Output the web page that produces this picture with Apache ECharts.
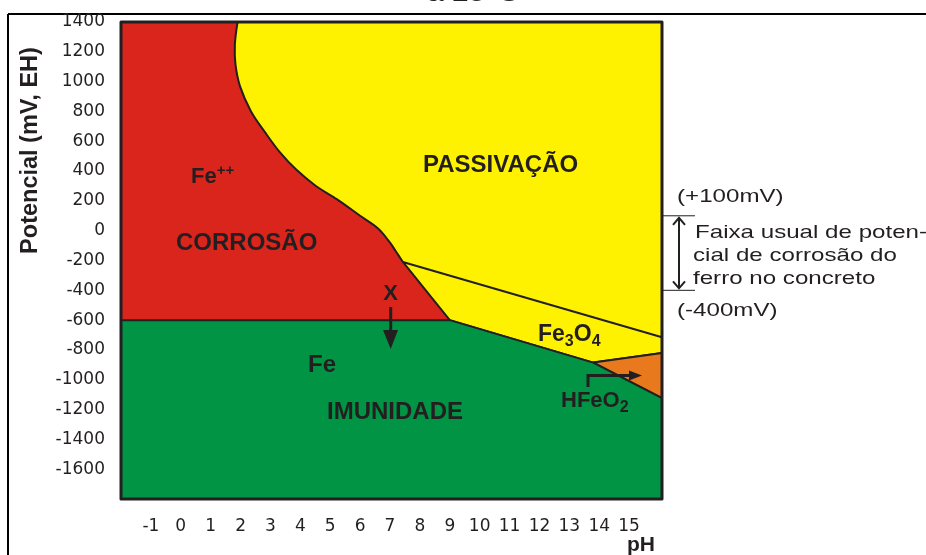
<!DOCTYPE html>
<html><head><meta charset="utf-8">
<script src="https://cdn.jsdelivr.net/npm/echarts@6/dist/echarts.min.js"></script>
<style>html,body{margin:0;padding:0;background:#fff}#c{width:926px;height:555px}</style>
</head><body><div id="c"></div>
<script>
// ---- data (pH, potential mV) ----
const xTicks = [-1,0,1,2,3,4,5,6,7,8,9,10,11,12,13,14,15];
const yTicks = [1400,1200,1000,800,600,400,200,0,-200,-400,-600,-800,-1000,-1200,-1400,-1600];
const xRange = [-2, 16.1];
const yRange = [-1800, 1400];
const corrosaoCurve = [[1.9,1400],[1.81,1250],[1.83,1115],[1.98,970],[2.35,800],[2.82,660],[3.32,525],[3.86,410],[4.52,300],[5.23,210],[6.0,100],[6.6,15],[7.0,-80],[7.2,-140],[7.43,-210]];
const corrosao = [[-2,1400]].concat(corrosaoCurve, [[9.0,-600],[-2,-600]]);
const passivacao = corrosaoCurve.concat([[16.1,-715],[16.1,1400]]);
const fe3o4 = [[7.43,-210],[16.1,-715],[16.1,-820],[13.8,-885],[9.0,-600]];
const hfeo2 = [[13.8,-885],[16.1,-820],[16.1,-1123]];
const imunidade = [[-2,-600],[9.0,-600],[13.8,-885],[16.1,-1123],[16.1,-1800],[-2,-1800]];
const frame = [[-2,1400],[16.1,1400],[16.1,-1800],[-2,-1800]];
const bandLimits = [100, -400];

const INK = '#231f20';
const chart = echarts.init(document.getElementById('c'), null, {renderer:'canvas'});

function region(name, pts, fill, lw, z) {
  return {
    type:'custom', name, coordinateSystem:'cartesian2d', silent:true, z: z || 2,
    encode:{x:0, y:1}, data: pts,
    renderItem: function(params, api) {
      if (params.dataIndex !== 0) return null;
      const points = pts.map(p => api.coord(p));
      return {type:'polygon', shape:{points},
        style:{fill: fill, stroke: lw ? INK : 'none', lineWidth: lw || 0, lineJoin:'round'}};
    }
  };
}
function curve(name, pts, z) {
  return {
    type:'custom', name, coordinateSystem:'cartesian2d', silent:true, z: z || 3,
    encode:{x:0, y:1}, data: pts,
    renderItem: function(params, api) {
      if (params.dataIndex !== 0) return null;
      const points = pts.map(p => api.coord(p));
      return {type:'polyline', shape:{points, smooth:0.35},
        style:{fill:'none', stroke: INK, lineWidth: 2}};
    }
  };
}

function label(text, x, y, size, extra) {
  return Object.assign({type:'text', x, y, z:100, silent:true,
    style:{text, fill:INK, fontFamily:'Liberation Sans', fontWeight:'bold', fontSize:size,
      align:'left', verticalAlign:'middle'}}, extra || {});
}
function note(text, x, baseline) {
  return {type:'text', x, y: baseline - 6.6, scaleX:1.27, z:100, silent:true,
    style:{text, fill:INK, fontFamily:'Liberation Sans', fontSize:19, align:'left', verticalAlign:'middle'}};
}

const option = {
  animation:false,
  backgroundColor:'#fff',
  grid:{left:121, right:264, top:22, bottom:56, containLabel:false, outerBoundsMode:'none'},
  xAxis:{type:'value', min:xRange[0], max:xRange[1], interval:1, offset:3,
    axisLine:{show:false},
    axisTick:{show:true, length:11, customValues:xTicks, lineStyle:{width:3, color:INK}},
    axisLabel:{customValues:xTicks, margin:16, fontFamily:'DejaVu Sans', fontSize:17, color:INK,
      formatter: v => String(v)},
    splitLine:{show:false}},
  yAxis:{type:'value', min:yRange[0], max:yRange[1], interval:200,
    name:'Potencial (mV, EH)', nameLocation:'middle', nameGap:78, nameRotate:90, nameMoveOverlap:false,
    nameTextStyle:{fontFamily:'Liberation Sans', fontWeight:'bold', fontSize:23.5, color:INK, padding:[0,0,0,220]},
    axisLine:{show:false},
    axisTick:{show:true, length:14, customValues:yTicks, lineStyle:{width:3, color:INK}},
    axisLabel:{customValues:yTicks, margin:16, fontFamily:'DejaVu Sans', fontSize:17, color:INK,
      formatter: v => String(v)},
    splitLine:{show:false}},
  series:[
    region('Passivação', passivacao, '#fff200', 0),
    region('Corrosão', corrosao, '#da251d', 0),
    region('Fe3O4', fe3o4, '#fff200', 2),
    region('HFeO2', hfeo2, '#e8791d', 2),
    region('Imunidade', imunidade, '#009444', 2),
    curve('Fe++ / passivação', corrosaoCurve, 5),
    region('frame', frame, 'none', 3, 10)
  ]
};
chart.setOption(option);

const yTop = chart.convertToPixel({gridIndex:0}, [xRange[1], bandLimits[0]])[1];
const yBot = chart.convertToPixel({gridIndex:0}, [xRange[1], bandLimits[1]])[1];
const ax = 679;

chart.setOption({graphic:[
  // outer frame
  {type:'line', shape:{x1:8, y1:14, x2:926, y2:14}, style:{stroke:'#000', lineWidth:2}},
  {type:'line', shape:{x1:8, y1:14, x2:8, y2:555}, style:{stroke:'#000', lineWidth:2}},
  // title (cut off at top)
  {type:'text', x:427, y:-5.5, scaleX:1.25, style:{text:'a 25°C', fill:INK, fontFamily:'Liberation Sans', fontSize:24, align:'left', verticalAlign:'middle'}},
  // x axis name
  {type:'text', x:641, y:545.5, style:{text:'pH', fill:INK, fontFamily:'Liberation Sans', fontWeight:'bold', fontSize:21, align:'center', verticalAlign:'middle'}},
  // region labels
  label('{a|Fe}{s|++}', 191, 177, 22, {style:{text:'{a|Fe}{s|++}', fill:INK, align:'left', verticalAlign:'middle',
     rich:{a:{fontFamily:'Liberation Sans', fontWeight:'bold', fontSize:22, lineHeight:28, fill:INK},
           s:{fontFamily:'Liberation Sans', fontWeight:'bold', fontSize:15, lineHeight:15, verticalAlign:'top', fill:INK}}}}),
  label('CORROSÃO', 176, 243.6, 24),
  label('PASSIVAÇÃO', 423, 165.6, 24),
  label('X', 390.7, 294.3, 22, {style:{text:'X', fill:INK, fontFamily:'Liberation Sans', fontWeight:'bold', fontSize:22, align:'center', verticalAlign:'middle'}}),
  label('Fe', 308, 365.6, 24),
  label('IMUNIDADE', 327, 412.6, 24),
  {type:'text', x:538, y:335, z:100, style:{text:'{a|Fe}{s|3}{a|O}{s|4}', fill:INK, align:'left', verticalAlign:'middle',
     rich:{a:{fontFamily:'Liberation Sans', fontWeight:'bold', fontSize:23, lineHeight:30, fill:INK},
           s:{fontFamily:'Liberation Sans', fontWeight:'bold', fontSize:16, lineHeight:16, verticalAlign:'bottom', fill:INK}}}},
  {type:'text', x:561, y:400.5, z:100, style:{text:'{a|HFeO}{s|2}', fill:INK, align:'left', verticalAlign:'middle',
     rich:{a:{fontFamily:'Liberation Sans', fontWeight:'bold', fontSize:22, lineHeight:30, fill:INK},
           s:{fontFamily:'Liberation Sans', fontWeight:'bold', fontSize:16, lineHeight:16, verticalAlign:'bottom', fill:INK}}}},
  // X arrow
  {type:'line', z:100, shape:{x1:390.7, y1:307, x2:390.7, y2:332}, style:{stroke:INK, lineWidth:3}},
  {type:'polygon', z:100, shape:{points:[[383,330],[398,330],[390.7,349]]}, style:{fill:INK}},
  // HFeO2 arrow
  {type:'polyline', z:100, shape:{points:[[588,387],[588,375.5],[631,375.5]]}, style:{stroke:INK, lineWidth:3, fill:'none'}},
  {type:'polygon', z:100, shape:{points:[[629,370.5],[629,380.5],[642,375.5]]}, style:{fill:INK}},
  // potential band bracket
  {type:'line', shape:{x1:663, y1:yTop, x2:695, y2:yTop}, style:{stroke:INK, lineWidth:1}},
  {type:'line', shape:{x1:663, y1:yBot, x2:695, y2:yBot}, style:{stroke:INK, lineWidth:1}},
  {type:'line', shape:{x1:ax, y1:yTop+2, x2:ax, y2:yBot-2}, style:{stroke:INK, lineWidth:2}},
  {type:'polyline', shape:{points:[[ax-6,yTop+9],[ax,yTop+2],[ax+6,yTop+9]]}, style:{stroke:INK, lineWidth:2, fill:'none'}},
  {type:'polyline', shape:{points:[[ax-6,yBot-9],[ax,yBot-2],[ax+6,yBot-9]]}, style:{stroke:INK, lineWidth:2, fill:'none'}},
  note('(+100mV)', 677, 203),
  note('Faixa usual de poten-', 695, 239),
  note('cial de corrosão do', 693, 262),
  note('ferro no concreto', 693, 285),
  note('(-400mV)', 677, 317)
]});
</script></body></html>
